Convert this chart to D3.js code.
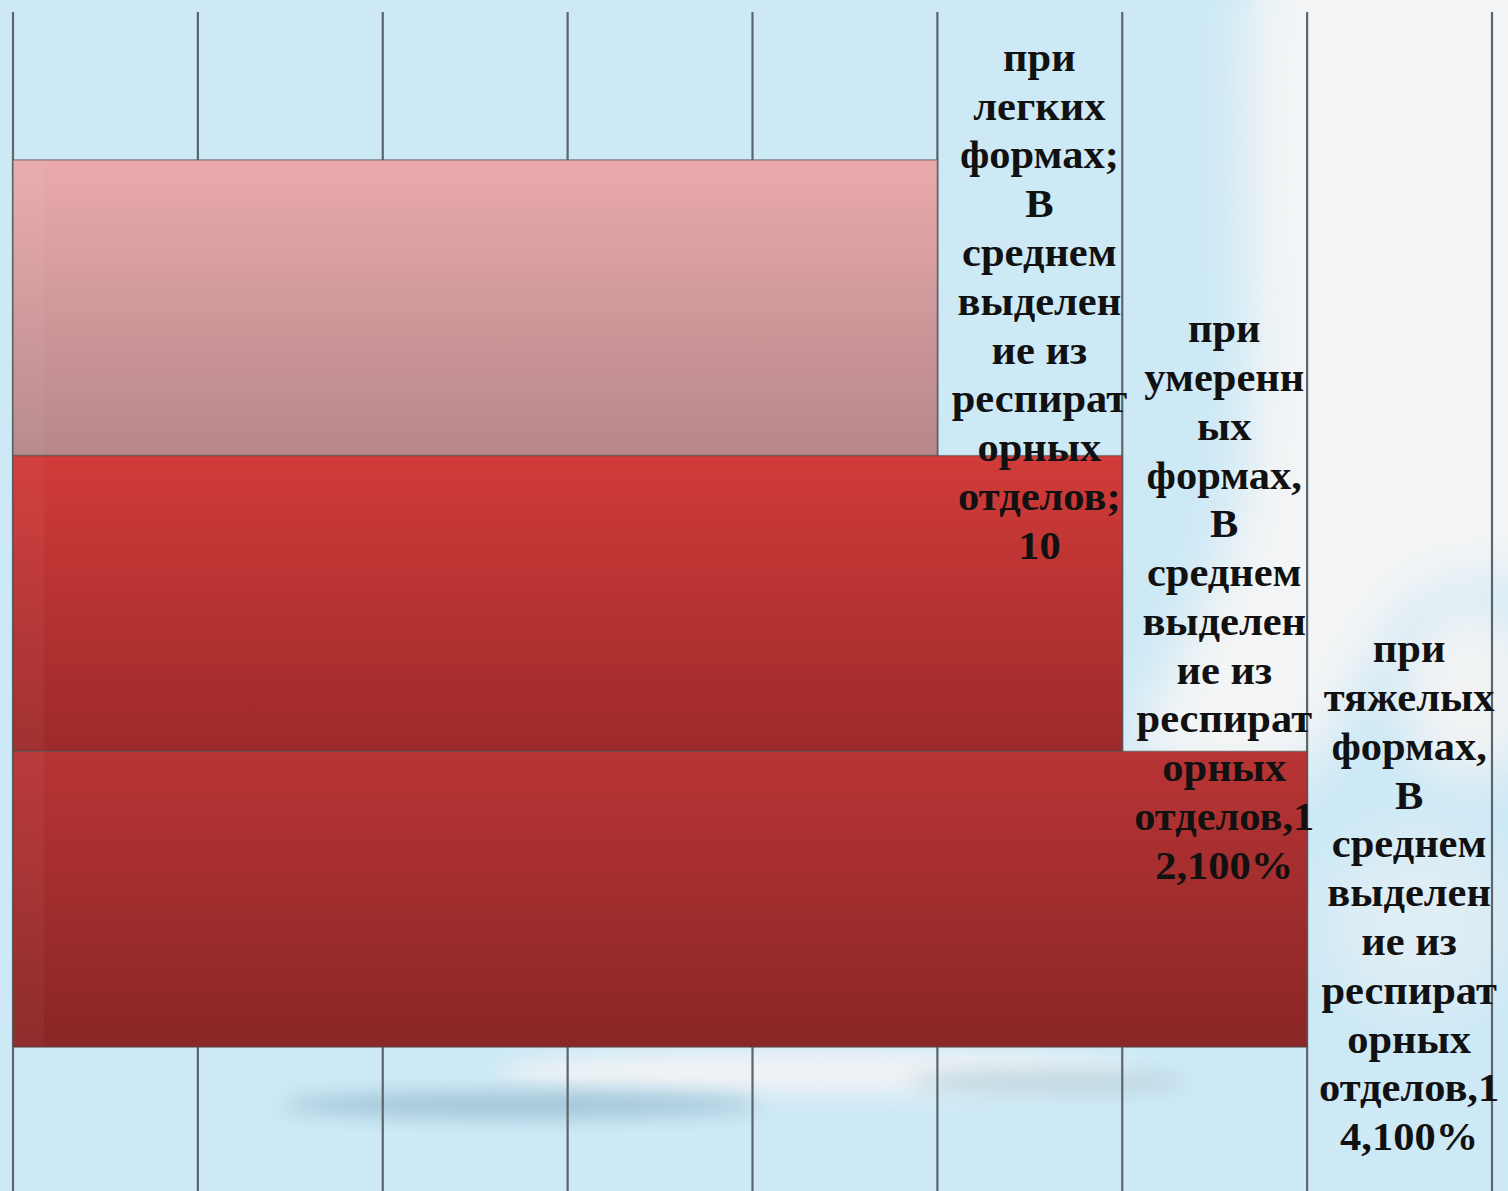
<!DOCTYPE html>
<html>
<head>
<meta charset="utf-8">
<script src="https://cdn.jsdelivr.net/npm/d3@7"></script>
<style>
  html, body { margin: 0; padding: 0; overflow: hidden; }
  body { width: 1508px; height: 1191px; }
  svg { display: block; }
</style>
</head>
<body>
<div id="chart"></div>
<script>
const width = 1508,
    height = 1191;

// one category, three series
const series = ["при легких формах", "при умеренных формах", "при тяжелых формах"];
const values = [10, 12, 14];
// data labels, wrapped the way the original shows them
const labelLines = [
    ["при", "легких", "формах;", "В", "среднем", "выделен", "ие из", "респират", "орных", "отделов;", "10"],
    ["при", "умеренн", "ых", "формах,", "В", "среднем", "выделен", "ие из", "респират", "орных", "отделов,1", "2,100%"],
    ["при", "тяжелых", "формах,", "В", "среднем", "выделен", "ие из", "респират", "орных", "отделов,1", "4,100%"]
];
const xTicks = [0, 2, 4, 6, 8, 10, 12, 14, 16];
const barTop = ["#eaaaab", "#d13b39", "#b93434"];
const barBottom = ["#b6878b", "#9c2a2a", "#892626"];

const x = d3.scaleLinear().domain([0, 16]).range([13, 1492]);
const y = d3.scaleBand().domain(series).range([12, 1195]).paddingInner(0).paddingOuter(0.5);

const svg = d3.select('#chart')
    .append('svg')
    .attr('width', width)
    .attr('height', height);

const defs = svg.append('defs');

/* background: pale blue slide with white swooshes */
defs.append('filter').attr('id', 'blur').attr('x', '-50%').attr('y', '-50%').attr('width', '200%').attr('height', '200%')
    .append('feGaussianBlur').attr('stdDeviation', 24);
defs.append('filter').attr('id', 'blur2').attr('x', '-50%').attr('y', '-50%').attr('width', '200%').attr('height', '200%')
    .append('feGaussianBlur').attr('stdDeviation', 10);

svg.append('rect').attr('width', width).attr('height', height).attr('fill', '#cde9f6');

const deco = svg.append('g').attr('class', 'deco');
// big white drape on the upper right
deco.append('path')
    .attr('d', 'M1260,-60 L1600,-60 L1600,560 C1520,600 1440,560 1400,620 C1340,700 1330,760 1290,780 C1220,800 1160,780 1130,740 C1180,640 1240,560 1250,420 C1255,250 1230,100 1260,-60 Z')
    .attr('fill', '#f3f4f5').attr('filter', 'url(#blur)');
deco.append('ellipse').attr('cx', 1470).attr('cy', 690).attr('rx', 70).attr('ry', 90)
    .attr('fill', '#f1f3f4').attr('filter', 'url(#blur)');
deco.append('ellipse').attr('cx', 1420).attr('cy', 920).attr('rx', 90).attr('ry', 90)
    .attr('fill', '#dfedf4').attr('filter', 'url(#blur)');
// swoosh near the bottom
deco.append('ellipse').attr('cx', 820).attr('cy', 1072).attr('rx', 320).attr('ry', 22)
    .attr('fill', '#eef2f4').attr('filter', 'url(#blur2)');
deco.append('ellipse').attr('cx', 520).attr('cy', 1105).attr('rx', 240).attr('ry', 13)
    .attr('fill', '#a3c5d7').attr('filter', 'url(#blur2)');
deco.append('ellipse').attr('cx', 1050).attr('cy', 1082).attr('rx', 140).attr('ry', 11)
    .attr('fill', '#bcd5e0').attr('filter', 'url(#blur2)');

/* vertical gridlines */
svg.append('g')
    .attr('class', 'grid')
    .selectAll('line')
    .data(xTicks)
    .enter()
    .append('line')
    .attr('x1', d => x(d))
    .attr('x2', d => x(d))
    .attr('y1', 12)
    .attr('y2', 1195)
    .attr('stroke', '#5b666c')
    .attr('stroke-width', 2.2);

/* bar gradients */
series.forEach((s, i) => {
    const g = defs.append('linearGradient').attr('id', 'bar' + i)
        .attr('x1', 0).attr('y1', 0).attr('x2', 0).attr('y2', 1);
    g.append('stop').attr('offset', 0).attr('stop-color', barTop[i]);
    g.append('stop').attr('offset', 1).attr('stop-color', barBottom[i]);
});

const bars = svg.append('g').attr('class', 'bars');
bars.selectAll('rect')
    .data(series)
    .enter()
    .append('rect')
    .attr('x', x(0))
    .attr('y', d => y(d))
    .attr('width', (d, i) => x(values[i]) - x(0))
    .attr('height', y.bandwidth())
    .attr('fill', (d, i) => 'url(#bar' + i + ')')
    .attr('stroke', 'rgba(80,80,80,0.55)')
    .attr('stroke-width', 1.5);

// faint strip along the left edge
bars.selectAll('.edge')
    .data(series)
    .enter()
    .append('rect')
    .attr('class', 'edge')
    .attr('x', x(0) + 1)
    .attr('y', d => y(d) + 1)
    .attr('width', 30)
    .attr('height', y.bandwidth() - 2)
    .attr('fill', 'rgba(255,255,255,0.035)');

/* data labels */
const lineH = 48.8;
const labels = svg.append('g').attr('class', 'labels')
    .selectAll('text')
    .data(series)
    .enter()
    .append('text')
    .attr('text-anchor', 'middle')
    .attr('font-family', '"Liberation Serif", "Times New Roman", serif')
    .attr('font-weight', 'bold')
    .attr('font-size', 39)
    .attr('fill', '#111')
    .attr('transform', (d, i) => {
        const cx = x(values[i]) + 102;
        const cy = y(d) + y.bandwidth() / 2 - 6;
        return 'translate(' + cx + ',' + cy + ') scale(1.09,1)';
    });

labels.each(function (d, i) {
    const lines = labelLines[i];
    const top = -(lines.length - 1) / 2 * lineH + 13;
    d3.select(this).selectAll('tspan')
        .data(lines)
        .enter()
        .append('tspan')
        .attr('x', 0)
        .attr('y', (l, j) => top + j * lineH)
        .text(l => l);
});
</script>
</body>
</html>
